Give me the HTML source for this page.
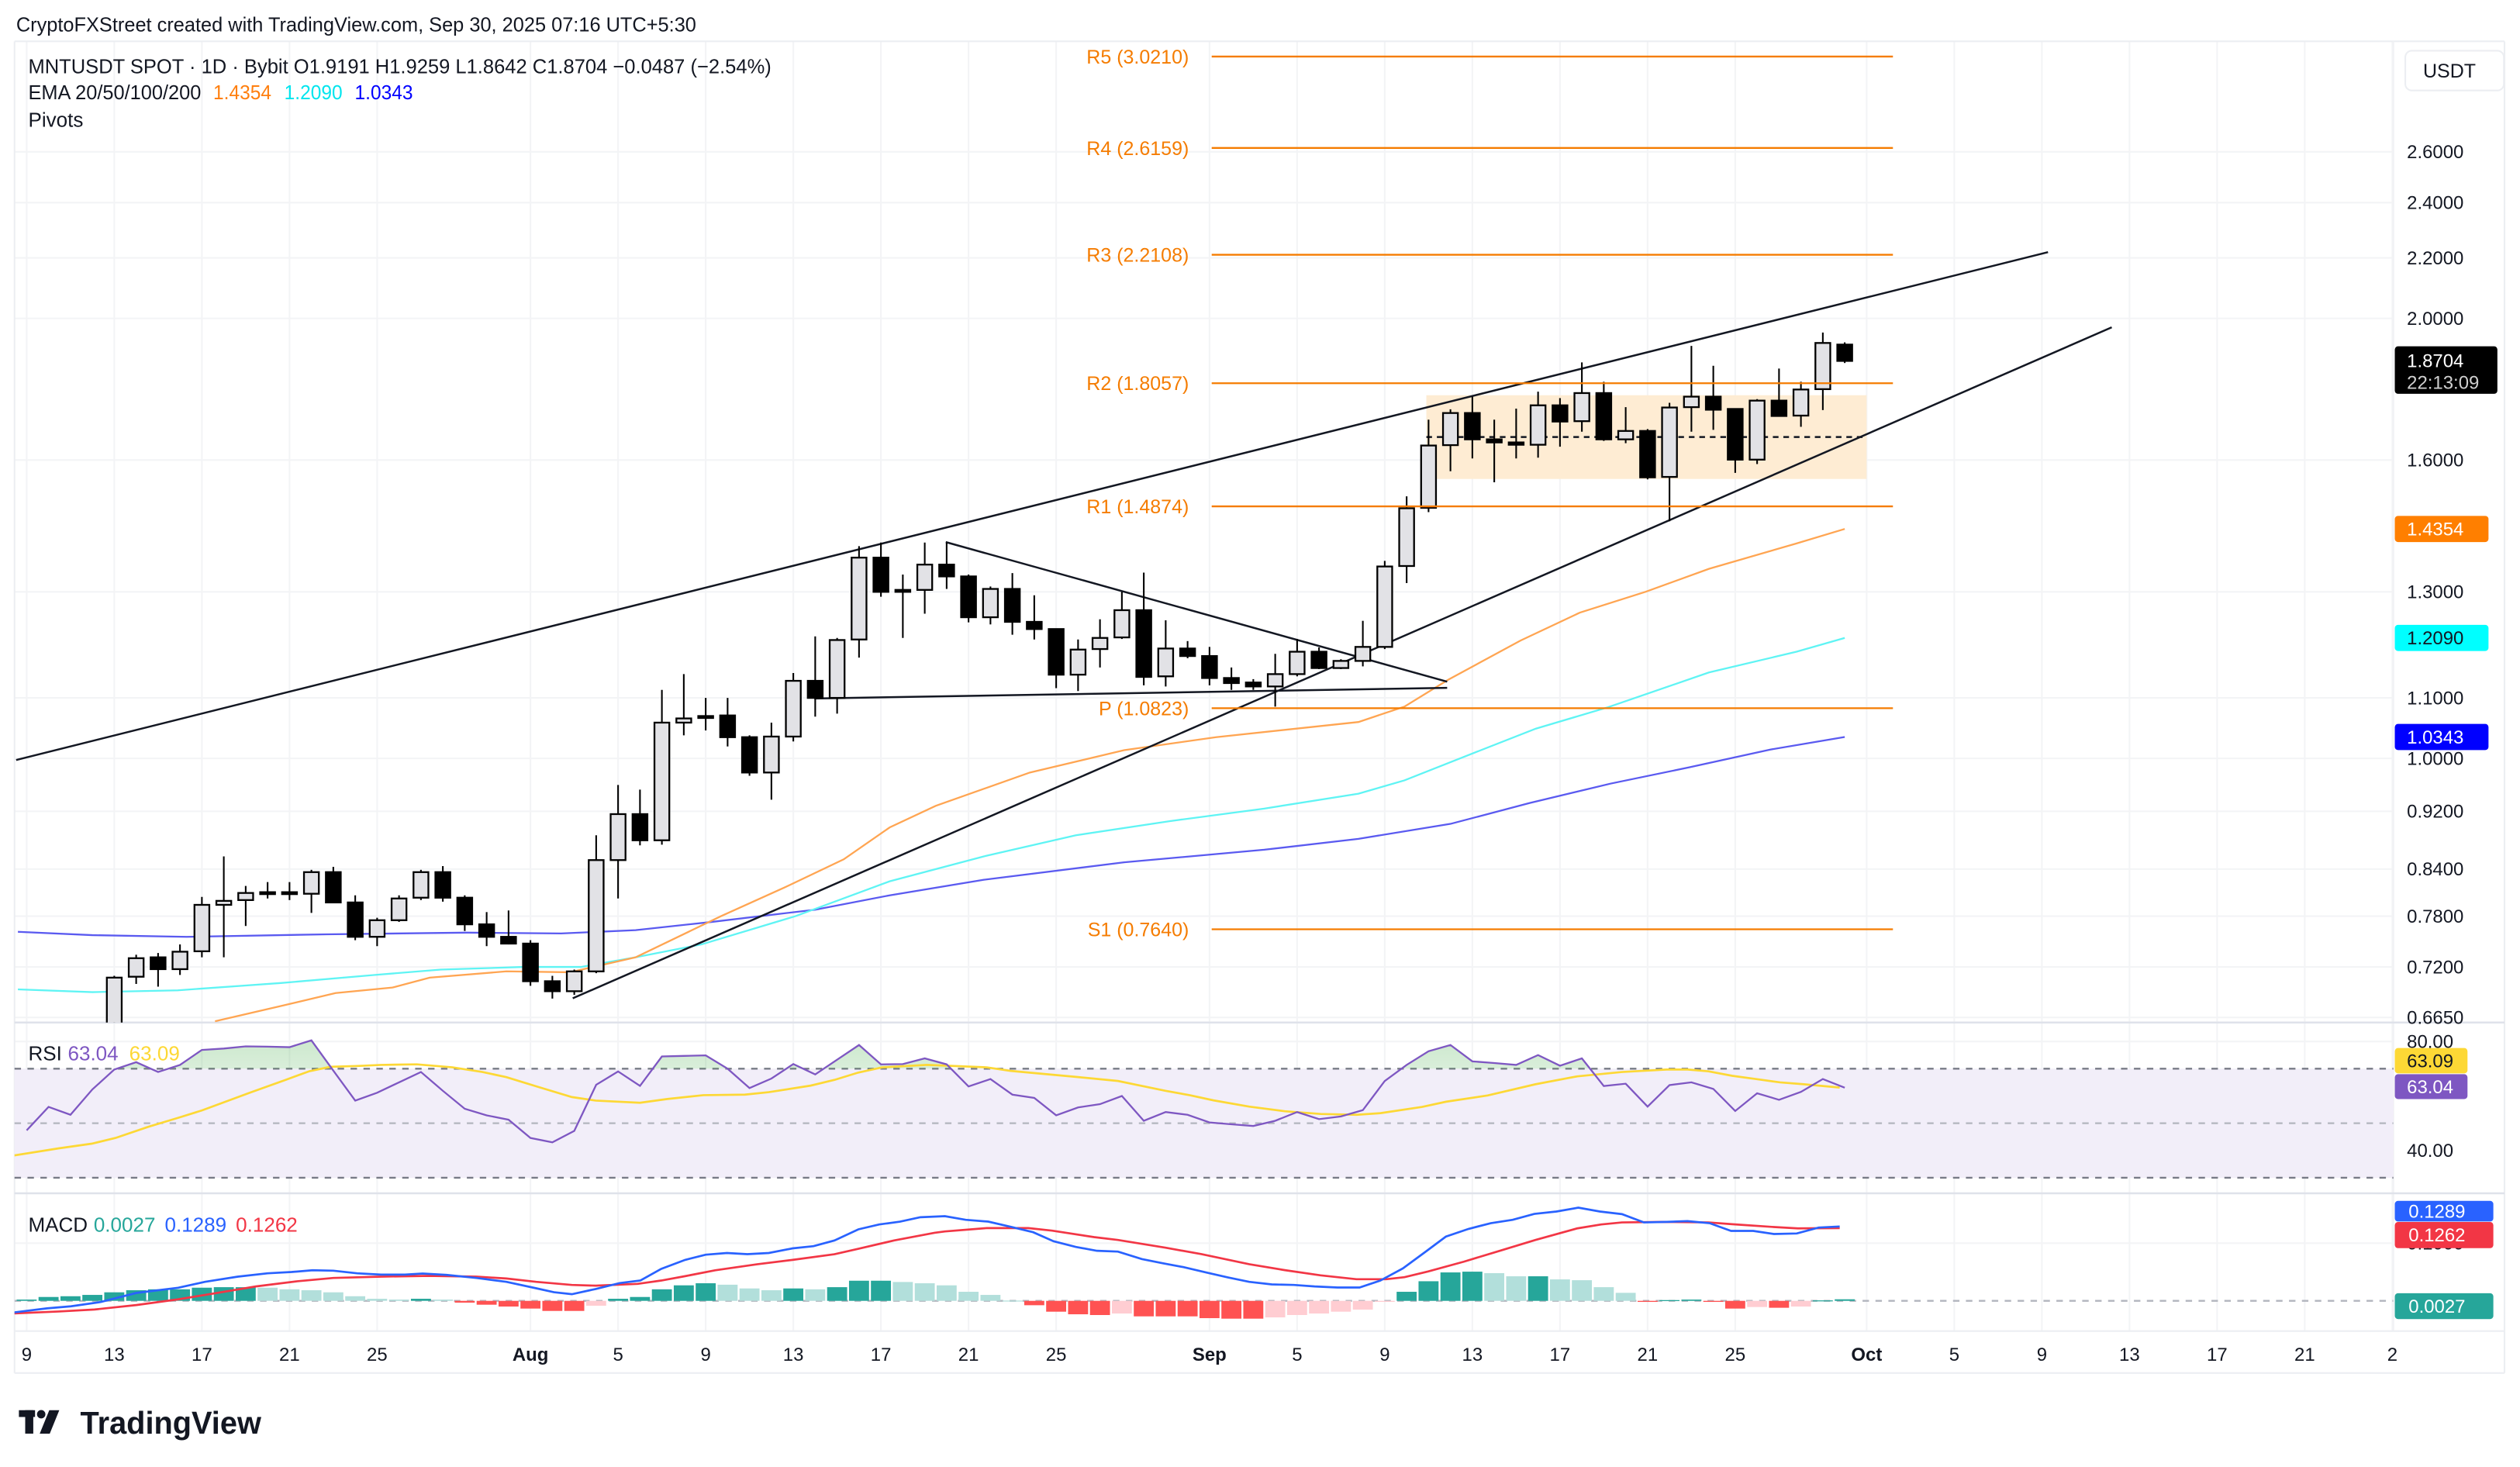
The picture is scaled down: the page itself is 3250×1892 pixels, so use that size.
<!DOCTYPE html>
<html><head><meta charset="utf-8"><title>MNTUSDT chart</title>
<style>
html,body{margin:0;padding:0;background:#fff;}
svg{display:block;}
text{font-family:"Liberation Sans",Arial,sans-serif;}
</style></head>
<body>
<svg id="chart" xmlns="http://www.w3.org/2000/svg" width="3250" height="1892" viewBox="0 0 1560 908.16">
<rect x="0" y="0" width="1560" height="908.16" fill="#ffffff"/>
<defs>
<clipPath id="mainClip"><rect x="9" y="25.6" width="1472.6" height="607.4"/></clipPath>
<clipPath id="rsiClip"><rect x="9" y="633" width="1472.6" height="105.7"/></clipPath>
<clipPath id="rsiOB"><rect x="9" y="633" width="1472.6" height="28.6"/></clipPath>
<clipPath id="macdClip"><rect x="9" y="738.7" width="1472.6" height="85.3"/></clipPath>
<linearGradient id="obGrad" x1="0" y1="0" x2="0" y2="1"><stop offset="0" stop-color="#4caf50" stop-opacity="0.28"/><stop offset="1" stop-color="#4caf50" stop-opacity="0.04"/></linearGradient>
</defs>
<text x="10" y="19.5" font-size="12.6" fill="#131722" textLength="421" lengthAdjust="spacingAndGlyphs">CryptoFXStreet created with TradingView.com, Sep 30, 2025 07:16 UTC+5:30</text>
<g id="grid"></g>
<g id="frame">
<line x1="9" y1="25.6" x2="1550.4" y2="25.6" stroke="#eceef2" stroke-width="1"/>
<line x1="9" y1="25.6" x2="9" y2="850" stroke="#eceef2" stroke-width="1"/>
<line x1="1550.4" y1="25.6" x2="1550.4" y2="850" stroke="#eceef2" stroke-width="1"/>
<line x1="1481.6" y1="25.6" x2="1481.6" y2="824" stroke="#f0f1f4" stroke-width="1"/>
<line x1="9" y1="633" x2="1550.4" y2="633" stroke="#dfe2ea" stroke-width="1.2"/>
<line x1="9" y1="738.7" x2="1550.4" y2="738.7" stroke="#dfe2ea" stroke-width="1.2"/>
<line x1="9" y1="824" x2="1550.4" y2="824" stroke="#eceef2" stroke-width="1"/>
<line x1="9" y1="850" x2="1550.4" y2="850" stroke="#eceef2" stroke-width="1"/>
</g>
<g id="main" clip-path="url(#mainClip)"></g>
<g id="pivots"></g>
<g id="rsi"></g>
<g id="macd"></g>
<g id="axes"></g>
<g id="legend">
<text x="17.5" y="45.3" font-size="12.5" fill="#131722" textLength="460" lengthAdjust="spacingAndGlyphs">MNTUSDT SPOT · 1D · Bybit  O1.9191  H1.9259  L1.8642  C1.8704  −0.0487 (−2.54%)</text>
<text x="17.5" y="61.5" font-size="12.5" fill="#131722" textLength="107" lengthAdjust="spacingAndGlyphs">EMA 20/50/100/200</text>
<text x="132" y="61.5" font-size="12.5" fill="#ff7f0e" textLength="36" lengthAdjust="spacingAndGlyphs">1.4354</text>
<text x="176" y="61.5" font-size="12.5" fill="#00e5ee" textLength="36" lengthAdjust="spacingAndGlyphs">1.2090</text>
<text x="219.6" y="61.5" font-size="12.5" fill="#0000ff" textLength="36" lengthAdjust="spacingAndGlyphs">1.0343</text>
<text x="17.5" y="78.5" font-size="12.5" fill="#131722">Pivots</text>
<text x="17.5" y="656.5" font-size="12.5" fill="#131722">RSI</text>
<text x="42" y="656.5" font-size="12.5" fill="#7e57c2">63.04</text>
<text x="80" y="656.5" font-size="12.5" fill="#fdd835">63.09</text>
<text x="17.5" y="762.5" font-size="12.5" fill="#131722">MACD</text>
<text x="58" y="762.5" font-size="12.5" fill="#26a69a">0.0027</text>
<text x="102" y="762.5" font-size="12.5" fill="#2962ff">0.1289</text>
<text x="146" y="762.5" font-size="12.5" fill="#f23645">0.1262</text>
</g>
<g id="logo">
<rect x="11.7" y="873" width="10" height="4.2" fill="#131722"/>
<rect x="15.6" y="873" width="5" height="14.5" fill="#131722"/>
<circle cx="25.5" cy="875.5" r="2.6" fill="#131722"/>
<polygon points="30.5,873 36.7,873 30.8,887.5 24.6,887.5" fill="#131722"/>
<text x="49.7" y="887.5" font-size="19.5" font-weight="bold" fill="#131722" textLength="112" lengthAdjust="spacingAndGlyphs">TradingView</text>
</g>
</svg>
<script>
// ---------- data ----------
const candleDays = [4,5,6,7,8,9,10,11,12,13,14,15,16,17,18,19,20,21,22,23,24,25,26,27,28,29,30,31,32,33,34,35,36,37,38,39,40,41,42,43,44,45,46,47,48,49,50,51,52,53,54,55,56,57,58,59,60,61,62,63,64,65,66,67,68,69,70,71,72,73,74,75,76,77,78,79,80,81,82,83];
const opens = [0.640,0.709,0.731,0.7175,0.738,0.794,0.800,0.810,0.810,0.808,0.836,0.797,0.755,0.775,0.803,0.836,0.803,0.770,0.755,0.747,0.704,0.693,0.715,0.852,0.916,0.879,1.058,1.069,1.070,1.034,0.978,1.035,1.130,1.100,1.206,1.372,1.304,1.304,1.357,1.332,1.249,1.306,1.240,1.226,1.141,1.188,1.210,1.263,1.138,1.189,1.175,1.135,1.127,1.120,1.142,1.183,1.153,1.166,1.192,1.354,1.484,1.638,1.723,1.653,1.645,1.639,1.744,1.701,1.778,1.653,1.675,1.558,1.739,1.768,1.734,1.601,1.757,1.716,1.789,1.9191];
const highs = [0.710,0.734,0.736,0.746,0.804,0.857,0.818,0.823,0.823,0.839,0.843,0.806,0.778,0.806,0.839,0.844,0.806,0.785,0.787,0.751,0.710,0.717,0.886,0.959,0.952,1.114,1.142,1.100,1.100,1.037,1.058,1.144,1.212,1.209,1.397,1.405,1.336,1.405,1.405,1.336,1.311,1.339,1.293,1.227,1.206,1.245,1.300,1.340,1.243,1.203,1.192,1.154,1.133,1.179,1.207,1.191,1.169,1.242,1.365,1.511,1.705,1.733,1.768,1.705,1.735,1.782,1.764,1.866,1.810,1.739,1.680,1.751,1.915,1.856,1.736,1.761,1.848,1.810,1.956,1.9259];
const lows = [0.630,0.701,0.698,0.711,0.731,0.731,0.768,0.802,0.800,0.784,0.796,0.751,0.744,0.773,0.800,0.798,0.762,0.744,0.746,0.699,0.685,0.689,0.713,0.802,0.872,0.873,1.037,1.045,1.019,0.973,0.937,1.027,1.068,1.073,1.172,1.290,1.209,1.256,1.306,1.239,1.235,1.215,1.206,1.117,1.112,1.154,1.207,1.122,1.120,1.171,1.122,1.114,1.114,1.085,1.138,1.151,1.151,1.156,1.188,1.318,1.474,1.572,1.604,1.545,1.604,1.606,1.634,1.673,1.649,1.643,1.552,1.453,1.673,1.678,1.568,1.590,1.714,1.686,1.731,1.8642];
const closes = [0.708,0.730,0.7175,0.7375,0.794,0.799,0.809,0.809,0.808,0.836,0.797,0.755,0.775,0.802,0.836,0.803,0.770,0.755,0.747,0.704,0.693,0.715,0.852,0.916,0.879,1.058,1.065,1.066,1.034,0.978,1.035,1.130,1.100,1.205,1.372,1.300,1.300,1.357,1.332,1.249,1.306,1.240,1.226,1.141,1.187,1.209,1.263,1.137,1.189,1.175,1.135,1.126,1.120,1.142,1.183,1.153,1.166,1.192,1.353,1.483,1.637,1.723,1.653,1.645,1.639,1.744,1.700,1.778,1.653,1.675,1.557,1.738,1.768,1.732,1.601,1.757,1.715,1.788,1.924,1.8704];

const ema20Days = [8.6,11.6,14.1,16.7,18.4,21.9,24.8,27.8,31.7,34.6,37.3,39.4,41.5,45.8,50.1,54.3,60.8,62.9,64.9,68.2,70.9,73.9,76.8,80.8,83];
const ema20Vals = [0.661,0.677,0.691,0.697,0.708,0.715,0.714,0.731,0.780,0.816,0.853,0.897,0.928,0.978,1.013,1.034,1.059,1.085,1.132,1.204,1.258,1.300,1.348,1.403,1.4354];
const ema50Days = [-0.4,3.0,6.9,11.6,15.9,18.9,22.7,25.3,27.8,30.8,35.1,39.4,43.7,47.9,52.2,56.5,60.8,62.9,65.8,68.9,72.2,76.8,80.8,83];
const ema50Vals = [0.695,0.692,0.694,0.702,0.711,0.717,0.720,0.720,0.731,0.746,0.780,0.824,0.857,0.886,0.906,0.924,0.946,0.966,1.005,1.048,1.084,1.145,1.183,1.2090];
const ema100Days = [-0.4,3,7.3,13.7,20.1,24.4,27.8,31.3,36,39.4,43.7,50.1,56.5,60.8,65,68.6,72.3,75.9,79.6,83];
const ema100Vals = [0.761,0.757,0.755,0.758,0.760,0.759,0.763,0.773,0.788,0.806,0.826,0.849,0.866,0.881,0.902,0.932,0.961,0.986,1.014,1.0343];

const pivotNames = ["R5","R4","R3","R2","R1","P","S1"];
const pivotVals = [3.0210,2.6159,2.2108,1.8057,1.4874,1.0823,0.7640];
const priceTicks = [2.6,2.4,2.2,2.0,1.6,1.3,1.1,1.0,0.92,0.84,0.78,0.72,0.665];
const priceTickLabels = ["2.6000","2.4000","2.2000","2.0000","1.6000","1.3000","1.1000","1.0000","0.9200","0.8400","0.7800","0.7200","0.6650"];
const dateTickDays = [0,4,8,12,16,23,27,31,35,39,43,47,54,58,62,66,70,74,78,84,88,92,96,100,104,108];
const dateTickLabels = ["9","13","17","21","25","Aug","5","9","13","17","21","25","Sep","5","9","13","17","21","25","Oct","5","9","13","17","21","2"];

const rsiVals = [47.4,56.0,53.1,62.4,69.7,72.4,68.8,71.4,76.9,77.4,78.2,78.1,77.9,80.4,69.3,58.3,61.2,65.0,68.8,61.9,55.3,52.9,51.3,44.6,43.0,47.2,64.1,69.0,63.7,74.5,74.7,74.9,70.0,62.9,66.4,71.7,67.9,73.3,78.7,71.6,71.7,73.8,71.6,63.5,66.2,60.5,59.3,52.9,55.8,57.0,60.0,50.9,54.1,53.1,50.3,49.6,49.0,50.9,54.1,51.5,52.5,54.8,65.5,71.4,76.4,78.7,72.7,72.1,71.4,75.0,71.1,73.8,63.65,64.5,56.1,64.0,65.0,62.6,54.5,61.0,58.6,61.5,66.2,63.04];
const rsiMaDays = [-0.57,1.47,2.97,4.06,5.56,6.92,8.0,10.19,11.82,12.91,13.86,15.09,16.18,17.81,19.44,20.81,21.9,23.26,24.89,25.98,28.0,29.25,30.89,32.79,33.88,35.79,36.88,37.97,39.06,41.1,43.83,44.92,47.91,49.82,51.99,53.09,54.18,55.81,57.44,59.08,60.71,61.81,63.71,64.8,66.7,68.88,70.79,72.83,74.87,75.83,76.78,77.87,78.96,80.05,81.14,82.77];
const rsiMaVals = [38.2,40.8,42.5,44.6,48.7,52.0,54.7,61.2,65.9,69.1,70.7,71.0,71.4,71.6,70.5,68.8,66.9,63.55,59.6,58.3,57.5,58.9,60.3,60.5,61.4,63.8,65.9,68.6,70.5,71.4,70.5,69.2,67.0,65.5,61.9,60.3,58.4,56.1,54.4,53.4,53.1,53.7,56.0,57.9,60.2,64.3,67.2,68.8,69.7,69.7,69.05,67.4,66.2,65.0,64.3,63.09];

const macdDays = [-0.57,0.93,2.02,3.38,5.01,6.92,8.14,9.64,11.0,12.09,13.05,14.0,15.09,16.18,17.27,18.08,19.17,20.53,21.9,23.26,24.07,24.89,25.98,27.07,28.02,28.97,30.06,31.0,31.97,32.9,33.88,34.97,35.92,36.88,37.97,38.92,39.87,40.8,41.92,42.87,43.9,44.92,45.95,46.88,47.9,48.86,49.82,50.91,51.86,52.81,53.9,54.85,55.81,56.84,57.85,58.8,59.84,60.85,61.8,62.83,63.84,64.79,65.83,66.84,67.84,68.83,69.84,70.84,71.82,72.83,73.83,74.87,75.82,76.83,77.81,78.82,79.77,80.81,81.81,82.77];
const macdVals = [-0.020,-0.013,-0.0095,-0.002,0.0137,0.0227,0.033,0.042,0.0478,0.050,0.053,0.0523,0.0478,0.0455,0.0455,0.0473,0.045,0.0397,0.033,0.0218,0.015,0.0115,0.0206,0.0308,0.0353,0.0554,0.071,0.080,0.083,0.081,0.083,0.091,0.0948,0.1047,0.124,0.1325,0.1373,0.145,0.1468,0.1405,0.1374,0.1284,0.119,0.1033,0.0935,0.0868,0.0854,0.0724,0.0653,0.0585,0.0487,0.0406,0.033,0.0285,0.0276,0.025,0.0231,0.0231,0.0352,0.0563,0.0845,0.1114,0.1248,0.1347,0.1405,0.1508,0.1549,0.1616,0.1549,0.1504,0.136,0.1369,0.1383,0.1347,0.1213,0.1213,0.1159,0.1168,0.1271,0.1289];
const signalDays = [-0.57,1.47,3.1,5.01,6.92,8.55,10.46,12.36,14.0,16.18,18.36,20.53,21.9,23.26,24.89,25.98,27.89,28.97,30.06,31.43,33.34,34.97,36.88,37.97,39.6,41.45,41.92,43.83,45.73,46.82,48.73,49.82,52.0,53.63,55.81,57.44,59.07,60.71,62.07,62.9,63.98,65.62,67.25,68.88,70.79,71.88,72.83,74.87,76.78,77.87,79.77,80.86,82.77];
const signalVals = [-0.0217,-0.0185,-0.015,-0.0073,0.0026,0.0128,0.025,0.034,0.0397,0.042,0.0433,0.042,0.0388,0.033,0.0276,0.0263,0.0294,0.0352,0.0428,0.053,0.0634,0.071,0.0809,0.0903,0.1047,0.118,0.1204,0.1262,0.1262,0.1217,0.1105,0.1056,0.0921,0.081,0.0635,0.0532,0.0442,0.0375,0.0375,0.041,0.0509,0.068,0.0868,0.1056,0.1257,0.1325,0.136,0.1369,0.136,0.1329,0.128,0.1257,0.1262];
const histVals = [0.0022,0.0067,0.008,0.0103,0.0148,0.0184,0.020,0.020,0.0228,0.0237,0.0237,0.0228,0.020,0.0184,0.0148,0.008,0.0036,0.0022,0.0036,0.0022,-0.0031,-0.0067,-0.0099,-0.0134,-0.0175,-0.0175,-0.0085,0.0036,0.0067,0.020,0.0269,0.0305,0.028,0.0215,0.0184,0.0215,0.020,0.0237,0.0349,0.0349,0.0327,0.0305,0.0269,0.0157,0.0103,0.0005,-0.0076,-0.0188,-0.0233,-0.0246,-0.022,-0.0269,-0.0269,-0.0269,-0.030,-0.0309,-0.0309,-0.0287,-0.0246,-0.022,-0.0188,-0.0152,-0.0018,0.0157,0.034,0.0493,0.0506,0.048,0.0426,0.0426,0.0372,0.0358,0.0237,0.0139,-0.0018,0.0013,0.0022,-0.0018,-0.0134,-0.0107,-0.012,-0.0099,0.0008,0.0027];

// ---------- scales ----------
const NS = "http://www.w3.org/2000/svg";
function xS(d){ return 16.5 + 13.56*d; }
function yP(p){ return 469.5 - 393*Math.log(p); }
function yR(v){ return 661.6 + (70 - v)*1.6875; }
function yM(v){ return 805.3 - 357*v; }
function mk(tag, attrs, parent){
  const e = document.createElementNS(NS, tag);
  for (const k in attrs) e.setAttribute(k, attrs[k]);
  parent.appendChild(e);
  return e;
}
function pathFrom(xs, ys){ return xs.map((x,i)=>(i?"L":"M")+x.toFixed(2)+","+ys[i].toFixed(2)).join(""); }

const grid = document.getElementById('grid');
const main = document.getElementById('main');
const axes = document.getElementById('axes');
const piv = document.getElementById('pivots');
const rsiG = document.getElementById('rsi');
const macdG = document.getElementById('macd');

// grid lines
dateTickDays.forEach((d)=>{
  const x = xS(d);
  if (x > 1481) return;
  const l = mk('line', {x1:x, y1:25.6, x2:x, y2:824, stroke:'#f3f4f6', 'stroke-width':1}, grid);
  
  
});
priceTicks.forEach((p)=>{
  const y = yP(p);
  const l = mk('line', {x1:9, y1:y, x2:1481.6, y2:y, stroke:'#f3f4f6', 'stroke-width':1}, grid);
  
  
});
[80,60,40].forEach((v)=>{
  const l = mk('line', {x1:9, y1:yR(v), x2:1481.6, y2:yR(v), stroke:'#f3f4f6', 'stroke-width':1}, grid);
  
  
});
{
  const l = mk('line', {x1:9, y1:yM(0.1), x2:1481.6, y2:yM(0.1), stroke:'#f3f4f6', 'stroke-width':1}, grid);
  
  
}

// range box
{
  const x1 = xS(63.9), x2 = xS(84.0), y1 = yP(1.772), y2 = yP(1.553);
  const r = mk('rect', {x:x1, y:y1, width:x2-x1, height:y2-y1, fill:'#feecd3'}, main);
  
  
  const m = mk('line', {x1:x1, y1:yP(1.659), x2:x2, y2:yP(1.659), stroke:'#131722', 'stroke-width':1.2, 'stroke-dasharray':'3.5,3'}, main);
  
  
}

// EMA lines
function emaLine(days, vals, color, name){
  const p = mk('path', {d:pathFrom(days.map(xS), vals.map(yP)), fill:'none', stroke:color, 'stroke-width':1.1}, main);
  
  
}
emaLine(ema100Days, ema100Vals, '#5a5af0', 'ema100-line');
emaLine(ema50Days, ema50Vals, '#5ff4f4', 'ema50-line');
emaLine(ema20Days, ema20Vals, '#ffa552', 'ema20-line');

// trendlines
function trend(d1,p1,d2,p2,name){
  const l = mk('line', {x1:xS(d1), y1:yP(p1), x2:xS(d2), y2:yP(p2), stroke:'#131722', 'stroke-width':1.2}, main);
  
  
}
trend(-0.48, 0.9975, 92.28, 2.220, 'upper-channel-trendline');
trend(24.93, 0.6853, 95.19, 1.972, 'lower-rising-trendline');
trend(41.96, 1.406, 64.85, 1.1285, 'triangle-descending-trendline');
trend(35.96, 1.099, 64.85, 1.1176, 'triangle-support-trendline');

// candles
candleDays.forEach((d,i)=>{
  const x = xS(d), o = opens[i], c = closes[i], h = highs[i], lo = lows[i];
  const up = c >= o;
  const g = mk('g', {}, main);
  
  
  mk('line', {x1:x, y1:yP(h), x2:x, y2:yP(lo), stroke:'#000', 'stroke-width':1}, g);
  const top = yP(Math.max(o,c)), bot = yP(Math.min(o,c));
  mk('rect', {x:x-4.6, y:top, width:9.2, height:Math.max(bot-top,1.2), fill: up ? '#e2e2e6' : '#000', stroke:'#000', 'stroke-width':1.1}, g);
});

// pivots
pivotVals.forEach((v,i)=>{
  const y = yP(v);
  const l = mk('line', {x1:xS(54.1), y1:y, x2:xS(85.2), y2:y, stroke:'#f57c00', 'stroke-width':1.1}, piv);
  
  
  const t = mk('text', {x:736, y:y+4.3, 'font-size':12, fill:'#f57c00', 'text-anchor':'end'}, piv);
  
  
  t.textContent = pivotNames[i] + ' (' + v.toFixed(4) + ')';
});

// price axis labels
priceTicks.forEach((p,i)=>{
  const t = mk('text', {x:1490, y:yP(p)+4, 'font-size':11.5, fill:'#131722'}, axes);
  
  
  t.textContent = priceTickLabels[i];
});
// date labels
dateTickDays.forEach((d,i)=>{
  const x = xS(d);
  const bold = /[A-Za-z]/.test(dateTickLabels[i]);
  const t = mk('text', {x:x, y:842.5, 'font-size':11.5, fill:'#131722', 'text-anchor':'middle', 'font-weight': bold ? 'bold' : 'normal'}, axes);
  
  
  t.textContent = dateTickLabels[i];
});
// currency button
{
  const r = mk('rect', {x:1489, y:31.4, width:61, height:24.6, rx:4, fill:'#fff', stroke:'#eceef2'}, axes);
  
  
  const t = mk('text', {x:1500, y:48, 'font-size':12, fill:'#131722'}, axes);
  
  
  t.textContent = 'USDT';
}
// value boxes
function valBox(yc, h, w, bg, fg, txt, name){
  const r = mk('rect', {x:1482.5, y:yc-h/2, width:w, height:h, rx:2, fill:bg}, axes);
  
  
  const t = mk('text', {x:1490, y:yc+4, 'font-size':11.5, fill:fg}, axes);
  
  
  t.textContent = txt;
}
{
  const r = mk('rect', {x:1482.5, y:214.4, width:63.5, height:29.4, rx:2, fill:'#000'}, axes);
  
  
  const t1 = mk('text', {x:1490, y:227.3, 'font-size':11.5, fill:'#fff'}, axes);
  
  
  t1.textContent = '1.8704';
  const t2 = mk('text', {x:1490, y:240.8, 'font-size':11.5, fill:'#cfcfcf'}, axes);
  
  
  t2.textContent = '22:13:09';
}
valBox(yP(1.4354), 16.2, 58, '#ff7f00', '#fff', '1.4354', 'ema20-price-box');
valBox(yP(1.2090), 16.2, 58, '#00ffff', '#131722', '1.2090', 'ema50-price-box');
valBox(yP(1.0343), 16.2, 58, '#0000ff', '#fff', '1.0343', 'ema100-price-box');

// ---------- RSI ----------
{
  const band = mk('rect', {x:9, y:yR(70), width:1472.6, height:yR(30)-yR(70), fill:'#f2eef9'}, rsiG);
  
  
  [[70,'#787b86'],[50,'#b2b5be'],[30,'#787b86']].forEach(([v,c])=>{
    const l = mk('line', {x1:9, y1:yR(v), x2:1481.6, y2:yR(v), stroke:c, 'stroke-width':1.1, 'stroke-dasharray':'4,4'}, rsiG);
    
    
  });
  const rDays = rsiVals.map((v,i)=>i);
  const xs = rDays.map(xS), ys = rsiVals.map(yR);
  const fillD = pathFrom(xs, ys) + 'L' + xs[xs.length-1] + ',' + yR(70) + 'L' + xs[0] + ',' + yR(70) + 'Z';
  const g = mk('g', {'clip-path':'url(#rsiOB)'}, rsiG);
  const f = mk('path', {d:fillD, fill:'url(#obGrad)'}, g);
  
  
  const g2 = mk('g', {'clip-path':'url(#rsiClip)'}, rsiG);
  const ma = mk('path', {d:pathFrom(rsiMaDays.map(xS), rsiMaVals.map(yR)), fill:'none', stroke:'#fdd835', 'stroke-width':1.3}, g2);
  
  
  const ln = mk('path', {d:pathFrom(xs, ys), fill:'none', stroke:'#7e57c2', 'stroke-width':1.1}, g2);
  
  
  [[80,'80.00'],[40,'40.00']].forEach(([v,s])=>{
    const t = mk('text', {x:1490, y:yR(v)+4, 'font-size':11.5, fill:'#131722'}, rsiG);
    
    
    t.textContent = s;
  });
  const b1 = mk('rect', {x:1482.5, y:648.8, width:45, height:15.7, rx:2, fill:'#fdd835'}, rsiG);
  
  
  const t1 = mk('text', {x:1490, y:660.8, 'font-size':11.5, fill:'#131722'}, rsiG);
  
  
  t1.textContent = '63.09';
  const b2 = mk('rect', {x:1482.5, y:665, width:45, height:15.4, rx:2, fill:'#7e57c2'}, rsiG);
  
  
  const t2 = mk('text', {x:1490, y:676.8, 'font-size':11.5, fill:'#fff'}, rsiG);
  
  
  t2.textContent = '63.04';
}

// ---------- MACD ----------
{
  const g = mk('g', {'clip-path':'url(#macdClip)'}, macdG);
  const z = mk('line', {x1:9, y1:yM(0), x2:1481.6, y2:yM(0), stroke:'#b2b5be', 'stroke-width':1.1, 'stroke-dasharray':'4,4'}, g);
  
  
  histVals.forEach((v,i)=>{
    const prev = i>0 ? histVals[i-1] : 0;
    let col;
    if (v >= 0) col = v >= prev ? '#26a69a' : '#b2dfdb';
    else col = v <= prev ? '#ff5252' : '#ffcdd2';
    const y0 = yM(0), y1 = yM(v);
    const r = mk('rect', {x:xS(i)-6.2, y:Math.min(y0,y1), width:12.4, height:Math.max(Math.abs(y1-y0),0.6), fill:col}, g);
    
    
  });
  const sig = mk('path', {d:pathFrom(signalDays.map(xS), signalVals.map(yM)), fill:'none', stroke:'#f23645', 'stroke-width':1.3}, g);
  
  
  const ml = mk('path', {d:pathFrom(macdDays.map(xS), macdVals.map(yM)), fill:'none', stroke:'#2962ff', 'stroke-width':1.3}, g);
  
  
  const tk = mk('text', {x:1490, y:yM(0.1)+4, 'font-size':11.5, fill:'#131722'}, macdG);
  
  
  tk.textContent = '0.1000';
  [[743.4,12.8,'#2962ff','0.1289','macd-line-value-box'],[756.5,16.2,'#f23645','0.1262','macd-signal-value-box'],[800.6,16,'#26a69a','0.0027','macd-hist-value-box']].forEach(([y,h,c,s,n])=>{
    const r = mk('rect', {x:1482.5, y:y, width:61, height:h, rx:2, fill:c}, macdG);
    
    
    const t = mk('text', {x:1491, y:y+h/2+4, 'font-size':11.5, fill:'#fff'}, macdG);
    
    
    t.textContent = s;
  });
}
</script>
</body></html>
